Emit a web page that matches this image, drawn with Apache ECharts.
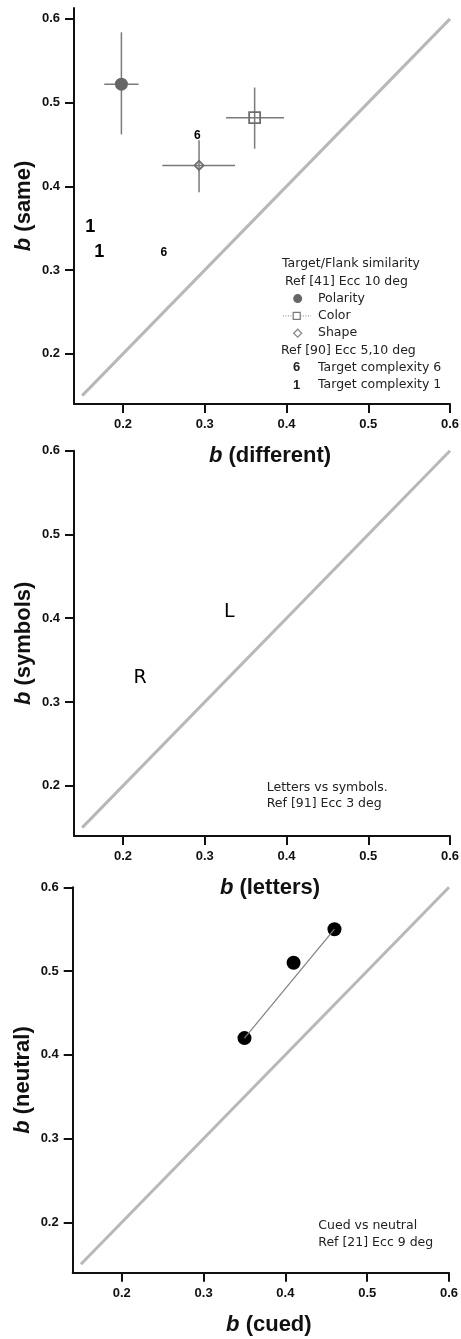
<!DOCTYPE html>
<html>
<head>
<meta charset="utf-8">
<script src="https://cdn.jsdelivr.net/npm/echarts@6/dist/echarts.min.js"></script>
<style>
  html, body { margin: 0; padding: 0; background: #fff; }
  #chart { width: 461px; height: 1339px; }
</style>
</head>
<body>
<div id="chart"></div>
<script>
// tick labels shared by every panel
var tickValues = [0.2, 0.3, 0.4, 0.5, 0.6];
var diagonal = [[0.15, 0.15], [0.6, 0.6]];

// panel 1 : Ref [41] points with error bars  [x, y, xLow, xHigh, yLow, yHigh]
var polarity = [0.198, 0.522, 0.177, 0.219, 0.462, 0.584];
var colorSim = [0.361, 0.482, 0.326, 0.397, 0.445, 0.518];
var shapeSim = [0.293, 0.425, 0.248, 0.337, 0.393, 0.455];
// panel 1 : Ref [90] target complexity
var complexity6 = [[0.291, 0.461], [0.250, 0.321]];
var complexity1 = [[0.160, 0.351], [0.171, 0.321]];

// panel 2 : letters vs symbols
var letterNames = ['L', 'R'];
var lettersX = [0.330, 0.221];
var symbolsY = [0.407, 0.329];

// panel 3 : cued vs neutral
var cued = [0.35, 0.41, 0.46];
var neutral = [0.42, 0.51, 0.55];
var fitLine = [[0.35, 0.42], [0.46, 0.55]];

var tickFont = 'Liberation Sans, Arial, sans-serif';
var noteFont = 'DejaVu Sans, sans-serif';

function xAxis(idx, name) {
    return {
        gridIndex: idx, type: 'value', min: 0.14, max: 0.6,
        name: name, nameLocation: 'middle', nameGap: 41, nameMoveOverlap: false,
        nameTextStyle: {
            fontFamily: tickFont, fontSize: 22, fontWeight: 'bold', color: '#111',
            padding: [0, 0, 0, 16],
            rich: { i: { fontFamily: tickFont, fontSize: 22, fontWeight: 'bold', fontStyle: 'italic', color: '#111' } }
        },
        axisLine: { lineStyle: { color: '#111', width: 2 } },
        axisTick: { length: 9, lineStyle: { color: '#111', width: 2 }, customValues: tickValues },
        axisLabel: { margin: 14, fontFamily: tickFont, fontSize: 13, fontWeight: 'bold', color: '#111',
                     customValues: tickValues, formatter: function (v) { return v.toFixed(1); } },
        splitLine: { show: false }
    };
}
function yAxis(idx, name, max) {
    return {
        gridIndex: idx, type: 'value', min: 0.14, max: max,
        name: name, nameLocation: 'middle', nameGap: 39, nameMoveOverlap: false,
        nameTextStyle: {
            fontFamily: tickFont, fontSize: 22, fontWeight: 'bold', color: '#111',
            rich: { i: { fontFamily: tickFont, fontSize: 22, fontWeight: 'bold', fontStyle: 'italic', color: '#111' } }
        },
        axisLine: { lineStyle: { color: '#111', width: 2 } },
        axisTick: { length: 9, lineStyle: { color: '#111', width: 2 }, customValues: tickValues },
        axisLabel: { margin: 14, fontFamily: tickFont, fontSize: 13, fontWeight: 'bold', color: '#111',
                     customValues: tickValues, formatter: function (v) { return v.toFixed(1); } },
        splitLine: { show: false }
    };
}

function diagSeries(idx) {
    return {
        type: 'line', xAxisIndex: idx, yAxisIndex: idx, data: diagonal,
        symbol: 'none', silent: true, z: 1,
        lineStyle: { color: '#b8b8b8', width: 3 }
    };
}

function errorBars(rows) {
    return {
        type: 'custom', xAxisIndex: 0, yAxisIndex: 0, data: rows, z: 2,
        renderItem: function (params, api) {
            var xl = api.coord([api.value(2), api.value(1)]);
            var xh = api.coord([api.value(3), api.value(1)]);
            var yl = api.coord([api.value(0), api.value(4)]);
            var yh = api.coord([api.value(0), api.value(5)]);
            var st = { stroke: '#7a7a7a', lineWidth: 1.5 };
            return { type: 'group', children: [
                { type: 'line', shape: { x1: xl[0], y1: xl[1], x2: xh[0], y2: xh[1] }, style: st },
                { type: 'line', shape: { x1: yl[0], y1: yl[1], x2: yh[0], y2: yh[1] }, style: st }
            ] };
        }
    };
}

function textMarks(idx, pts, size, weight, names) {
    return {
        type: 'scatter', xAxisIndex: idx, yAxisIndex: idx, symbolSize: 1, z: 4,
        itemStyle: { color: 'rgba(0,0,0,0)', opacity: 1 },
        data: pts.map(function (p, i) { return { name: names ? names[i] : '', value: p }; }),
        label: {
            show: true, position: 'inside', color: '#000', opacity: 1,
            fontFamily: weight === 'bold' ? tickFont : noteFont, fontSize: size, fontWeight: weight,
            formatter: function (p) { return p.name; }
        }
    };
}

var c6 = complexity6.map(function () { return '6'; });
var c1 = complexity1.map(function () { return '1'; });

var legendX = 282, legendY = 264, lh = 17.3;
function note(x, y, txt, bold) {
    return { type: 'text', x: x, y: y, style: { text: txt, fill: '#222', font: (bold ? 'bold 13px ' + tickFont : '12.5px ' + noteFont), verticalAlign: 'middle' } };
}

var option = {
    animation: false,
    backgroundColor: '#fff',
    grid: [
        { left: 74, top: 8, width: 376, height: 396, outerBoundsMode: 'none' },
        { left: 74, top: 450.7, width: 376, height: 385.3, outerBoundsMode: 'none' },
        { left: 72.7, top: 887.3, width: 376.3, height: 385.4, outerBoundsMode: 'none' }
    ],
    xAxis: [xAxis(0, '{i|b} (different)'), xAxis(1, '{i|b} (letters)'), xAxis(2, '{i|b} (cued)')],
    yAxis: [yAxis(0, '{i|b} (same)', 0.613), yAxis(1, '{i|b} (symbols)', 0.6), yAxis(2, '{i|b} (neutral)', 0.6)],
    series: [
        diagSeries(0), diagSeries(1), diagSeries(2),
        errorBars([polarity, colorSim, shapeSim]),
        { type: 'scatter', xAxisIndex: 0, yAxisIndex: 0, z: 3, data: [polarity.slice(0, 2)],
          symbol: 'circle', symbolSize: 13, itemStyle: { color: '#666', opacity: 1 } },
        { type: 'scatter', xAxisIndex: 0, yAxisIndex: 0, z: 3, data: [colorSim.slice(0, 2)],
          symbol: 'rect', symbolSize: 11, itemStyle: { color: 'rgba(255,255,255,0)', borderColor: '#6e6e6e', borderWidth: 1.8, opacity: 1 } },
        { type: 'scatter', xAxisIndex: 0, yAxisIndex: 0, z: 3, data: [shapeSim.slice(0, 2)],
          symbol: 'diamond', symbolSize: 9, itemStyle: { color: 'rgba(255,255,255,0)', borderColor: '#6e6e6e', borderWidth: 1.8, opacity: 1 } },
        textMarks(0, complexity6, 12, 'bold', c6),
        textMarks(0, complexity1, 18, 'bold', c1),
        textMarks(1, lettersX.map(function (x, i) { return [x, symbolsY[i]]; }), 19, 'normal', letterNames),
        { type: 'line', xAxisIndex: 2, yAxisIndex: 2, data: fitLine, symbol: 'none', z: 4,
          lineStyle: { color: '#808080', width: 1.2 } },
        { type: 'scatter', xAxisIndex: 2, yAxisIndex: 2, z: 3,
          data: cued.map(function (x, i) { return [x, neutral[i]]; }),
          symbol: 'circle', symbolSize: 14, itemStyle: { color: '#000', opacity: 1 } }
    ],
    graphic: [
        note(legendX, legendY, 'Target/Flank similarity'),
        note(legendX + 3, legendY + lh, 'Ref [41] Ecc 10 deg'),
        { type: 'circle', shape: { cx: 297.7, cy: legendY + 2 * lh, r: 4.5 }, style: { fill: '#666' } },
        note(318, legendY + 2 * lh, 'Polarity'),
        { type: 'line', shape: { x1: 283, y1: legendY + 3 * lh, x2: 311, y2: legendY + 3 * lh },
          style: { stroke: '#888', lineWidth: 1, lineDash: [1, 1.5] } },
        { type: 'rect', shape: { x: 293.2, y: legendY + 3 * lh - 3.5, width: 7, height: 7 },
          style: { fill: '#fff', stroke: '#777', lineWidth: 1.2 } },
        note(318, legendY + 3 * lh, 'Color'),
        { type: 'polygon', shape: { points: [[297.7, legendY + 4 * lh - 4], [301.7, legendY + 4 * lh], [297.7, legendY + 4 * lh + 4], [293.7, legendY + 4 * lh]] },
          style: { fill: '#fff', stroke: '#888', lineWidth: 1.3 } },
        note(318, legendY + 4 * lh, 'Shape'),
        note(legendX - 1, legendY + 5 * lh, 'Ref [90] Ecc 5,10 deg'),
        note(293, legendY + 6 * lh, '6', true),
        note(318, legendY + 6 * lh, 'Target complexity 6'),
        note(293, legendY + 7 * lh, '1', true),
        note(318, legendY + 7 * lh, 'Target complexity 1'),
        note(266.7, 787.3, 'Letters vs symbols.'),
        note(266.7, 803.5, 'Ref [91] Ecc 3 deg'),
        note(318.3, 1225.7, 'Cued vs neutral'),
        note(318.3, 1242.3, 'Ref [21] Ecc 9 deg')
    ]
};

var chart = echarts.init(document.getElementById('chart'));
chart.setOption(option);
window.addEventListener('resize', function () { chart.resize(); });
</script>
</body>
</html>
